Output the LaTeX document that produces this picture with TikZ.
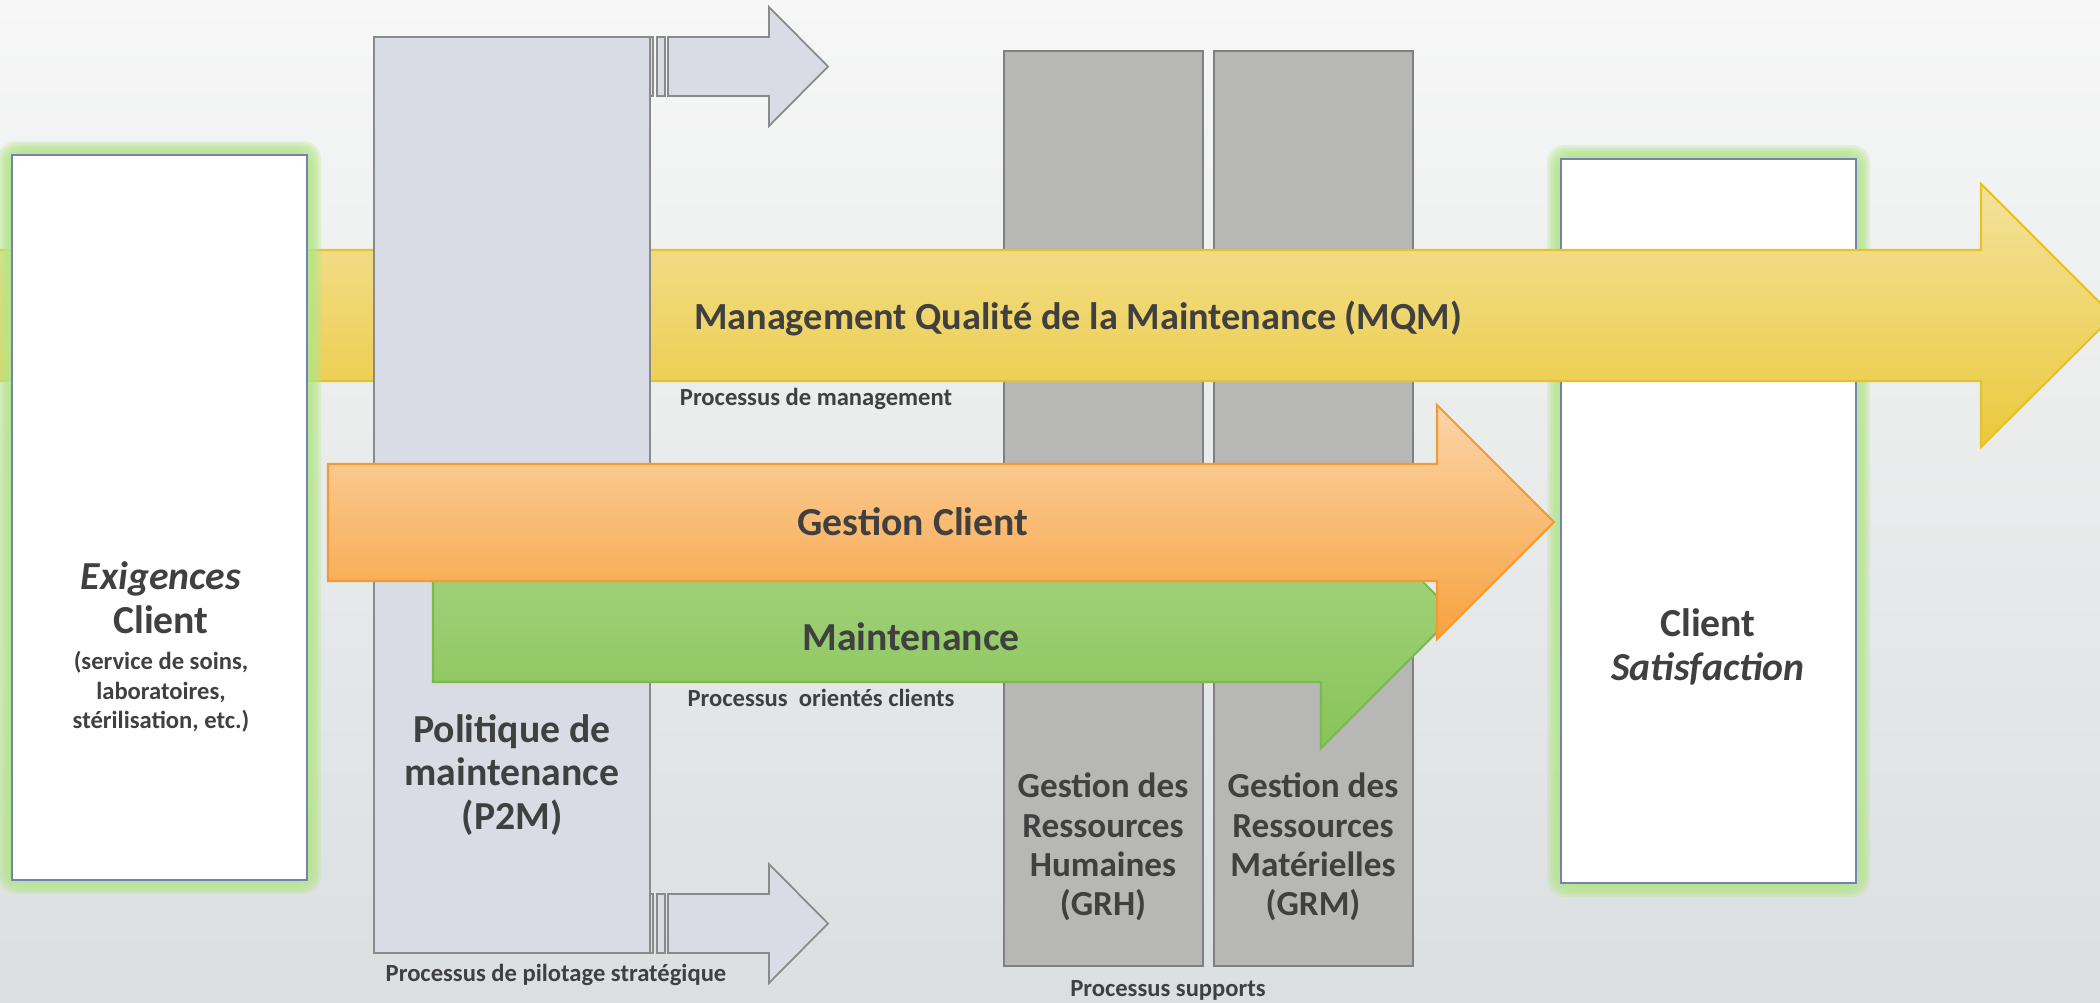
\documentclass[tikz,border=0pt]{standalone}
\usepackage{fontspec}
\setmainfont{Carlito}
\usepackage{tikz}
\usepackage{xcolor}
\definecolor{bgtop}{HTML}{F6F7F6}
\definecolor{bgbot}{HTML}{DBDFE0}
\definecolor{boxgrey}{HTML}{B7B7B5}
\definecolor{boxline}{HTML}{808080}
\definecolor{polfill}{HTML}{D9DCE4}
\definecolor{polline}{HTML}{8A8A8A}
\definecolor{clientline}{HTML}{7382B5}
\definecolor{glowgreen}{HTML}{B4E68A}
\definecolor{yeltop}{HTML}{F3E29C}
\definecolor{yelbot}{HTML}{EBC93C}
\definecolor{yelline}{HTML}{E5C229}
\definecolor{ortop}{HTML}{FBD5A8}
\definecolor{orbot}{HTML}{F7A23F}
\definecolor{orline}{HTML}{F29A34}
\definecolor{grtop}{HTML}{ADD78A}
\definecolor{grbot}{HTML}{88C458}
\definecolor{grline}{HTML}{7DBA4E}
\definecolor{txtgrey}{HTML}{404040}
\tikzset{greybox/.style={draw=boxline, fill=boxgrey, line width=0.6pt},
 clientbox/.style={draw=clientline, fill=white, line width=0.6pt},
 glow/.style={fill=glowgreen, opacity=0.28, rounded corners=5pt},
 polbox/.style={draw=polline, fill=polfill, line width=0.5pt},
 mqmarrow/.style={draw=yelline, top color=yeltop, bottom color=yelbot, line width=0.6pt},
 gclarrow/.style={draw=orline, top color=ortop, bottom color=orbot, line width=0.6pt},
 mntarrow/.style={draw=grline, top color=grtop, bottom color=grbot, line width=0.6pt},
 bigtxt/.style={text=txtgrey, align=center, font=\bfseries\fontsize{11.3}{12.5}\selectfont},
 midtxt/.style={text=txtgrey, align=center, font=\bfseries\fontsize{10}{11.2}\selectfont},
 smalltxt/.style={text=txtgrey, align=center, font=\bfseries\fontsize{7}{8.4}\selectfont},
 }

\begin{document}
\begin{tikzpicture}[x=0.01cm, y=-0.01cm]
        \useasboundingbox (0,0) rectangle (2100,1002);
        \fill[top color=bgtop, bottom color=bgbot] (0,0) rectangle (2100,1002);
        % processus supports
        \foreach \x in {1004, 1214} {
            \draw[greybox] (\x,51) rectangle (\x+199,966);
        }
        % client satisfait
        \foreach \g in {2,4,...,14} {
            \fill[glow] (1561-\g,159-\g) rectangle (1856+\g,883+\g);
        }
        \draw[clientbox] (1561,159) rectangle (1856,883);
        % MQM
        \draw[mqmarrow] (-5,250) -- (1981,250) -- (1981,184) -- (2113,316) -- (1981,447) -- (1981,381) -- (-5,381) -- cycle;
        % exigences client
        \foreach \g in {2,4,...,14} {
            \fill[glow] (12-\g,155-\g) rectangle (307+\g,880+\g);
        }
        \draw[clientbox] (12,155) rectangle (307,880);
        % pilotage
        \draw[polbox] (374,37) rectangle (650,953);
        \foreach \y in {37, 894} {
            \draw[polbox] (650,\y) rectangle (653,\y+59);
            \draw[polbox] (657,\y) rectangle (665,\y+59);
            \draw[polbox] (668,\y) -- (769,\y) -- (769,\y-30) -- (828,\y+29.5) -- (769,\y+89) -- (769,\y+59) -- (668,\y+59) -- cycle;
        }
        % processus orientes clients
        \draw[mntarrow] (433,546) -- (1321,546) -- (1321,480) -- (1455,614) -- (1321,748) -- (1321,682) -- (433,682) -- cycle;
        \draw[gclarrow] (328,464) -- (1437,464) -- (1437,405) -- (1554,522) -- (1437,639) -- (1437,581) -- (328,581) -- cycle;
        \node[bigtxt, font=\bfseries\fontsize{10.9}{12.5}\selectfont] (mqm) at (1078,319) {Management Qualité de la Maintenance (MQM)};
        \node[smalltxt] (pmgt) at (816,399) {Processus de management};
        \node[bigtxt] (gcl) at (913,522) {Gestion Client};
        \node[bigtxt] (mnt) at (911,637) {Maintenance};
        \node[smalltxt] (poc) at (821,698) {Processus \ orientés clients};
        \node[bigtxt] (exig) at (161,598) {\textit{Exigences}\\Client};
        \node[smalltxt] (exigdet) at (161,692) {(service de soins,\\laboratoires,\\stérilisation, etc.)};
        \node[bigtxt] (p2m) at (512,775) {Politique de\\maintenance\\(P2M)};
        \node[smalltxt] (ppil) at (556,975) {Processus de pilotage stratégique};
        \node[midtxt] (grh) at (1103,847) {Gestion des\\Ressources\\Humaines\\(GRH)};
        \node[midtxt] (grm) at (1313,847) {Gestion des\\Ressources\\Matérielles\\(GRM)};
        \node[smalltxt] (psup) at (1168,990) {Processus supports};
        \node[bigtxt] (csat) at (1708,647) {Client\\\textit{Satisfaction}};
    \end{tikzpicture}
\end{document}
